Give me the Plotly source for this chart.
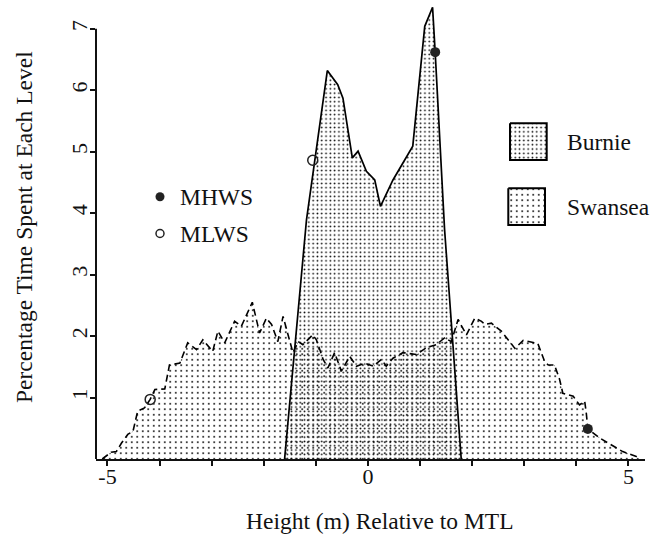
import plotly.graph_objects as go

# ---------------- data ----------------
swansea_x = [-5.10, -4.93, -4.83, -4.73, -4.61, -4.51, -4.42, -4.29, -4.18, -4.09,
             -3.90, -3.81, -3.61, -3.46, -3.29, -3.17, -2.98, -2.88, -2.75, -2.66,
             -2.56, -2.43, -2.37, -2.22, -2.08, -1.95, -1.85, -1.73, -1.63, -1.50,
             -1.44, -1.34, -1.25, -1.06, -0.99, -0.86, -0.77, -0.64, -0.51, -0.35,
             -0.22, -0.06, 0.10, 0.26, 0.35, 0.48, 0.67, 0.93, 1.12, 1.31,
             1.47, 1.60, 1.73, 1.89, 2.05, 2.18, 2.24, 2.37, 2.56, 2.69,
             2.82, 2.98, 3.10, 3.26, 3.39, 3.46, 3.58, 3.68, 3.74, 3.94,
             4.06, 4.16, 4.19, 4.22, 4.45, 4.67, 4.89, 5.15, 5.22]
swansea_y = [0.00, 0.11, 0.12, 0.26, 0.40, 0.45, 0.78, 0.83, 0.97, 1.13,
             1.14, 1.53, 1.56, 1.89, 1.78, 1.94, 1.75, 2.08, 1.89, 2.05,
             2.24, 2.16, 2.27, 2.55, 2.05, 2.29, 2.19, 1.91, 2.32, 1.89,
             1.73, 1.91, 1.86, 2.02, 1.94, 1.62, 1.48, 1.73, 1.43, 1.67,
             1.51, 1.56, 1.51, 1.62, 1.51, 1.64, 1.73, 1.70, 1.81, 1.86,
             1.97, 1.91, 2.27, 2.02, 2.29, 2.24, 2.19, 2.21, 2.08, 1.94,
             1.80, 1.93, 1.91, 1.88, 1.59, 1.53, 1.53, 1.29, 1.07, 1.02,
             0.88, 0.94, 0.75, 0.49, 0.34, 0.23, 0.12, 0.04, 0.00]

burnie_x = [-1.60, -1.18, -0.78, -0.58, -0.48, -0.30, -0.19, -0.03, 0.13, 0.24,
            0.48, 0.86, 1.09, 1.24, 1.29, 1.47, 1.79]
burnie_y = [0.00, 3.89, 6.32, 6.09, 5.87, 4.90, 5.01, 4.68, 4.54, 4.11,
            4.54, 5.09, 7.04, 7.35, 6.62, 3.74, 0.00]

mhws_x = [1.29, 4.22]
mhws_y = [6.62, 0.49]
mlws_x = [-1.06, -4.18]
mlws_y = [4.86, 0.97]

series_names = ["Burnie", "Swansea"]
marker_names = ["MHWS", "MLWS"]

x_tick_vals = [-5, -4, -3, -2, -1, 0, 1, 2, 3, 4, 5]
x_tick_text = ["-5", "", "", "", "", "0", "", "", "", "", "5"]
y_tick_vals = [1, 2, 3, 4, 5, 6, 7]
y_tick_text = ["1", "2", "3", "4", "5", "6", "7"]

x_title = "Height (m) Relative to MTL"
y_title = "Percentage Time Spent at Each Level"

# ---------------- layout constants ----------------
W, H = 651, 537
L, R, T, B = 96, 6, 5, 78
PX_PER_X = 52.1
PX_PER_Y = 61.46
X_MIN = -5.22
X_RANGE = [X_MIN, X_MIN + (W - L - R) / PX_PER_X]
Y_RANGE = [0, (H - T - B) / PX_PER_Y]
FONT = "Liberation Serif, Times New Roman, serif"

def px_x(px):
    return (px - L) / (W - L - R)

def px_y(py):
    return (H - B - py) / (H - T - B)

burnie_pattern = dict(shape=".", fgcolor="black", bgcolor="rgba(0,0,0,0)",
                      size=4.3, solidity=0.13, fillmode="replace")
swansea_pattern = dict(shape=".", fgcolor="black", bgcolor="rgba(0,0,0,0)",
                       size=5.5, solidity=0.09, fillmode="replace")

fig = go.Figure()

fig.add_trace(go.Scatter(
    x=swansea_x, y=swansea_y, mode="lines", name=series_names[1],
    line=dict(color="black", width=1.6, dash="7px,4px"),
    fill="tozeroy", fillcolor="black", fillpattern=swansea_pattern,
    showlegend=False, hoverinfo="skip"))

fig.add_trace(go.Scatter(
    x=burnie_x, y=burnie_y, mode="lines", name=series_names[0],
    line=dict(color="black", width=1.7),
    fill="tozeroy", fillcolor="black", fillpattern=burnie_pattern,
    showlegend=False, hoverinfo="skip"))

fig.add_trace(go.Scatter(
    x=mhws_x, y=mhws_y, mode="markers", name=marker_names[0],
    marker=dict(symbol="circle", size=10, color="#222"),
    showlegend=False, hoverinfo="skip"))
fig.add_trace(go.Scatter(
    x=mlws_x, y=mlws_y, mode="markers", name=marker_names[1],
    marker=dict(symbol="circle-open", size=10, color="#222", line=dict(width=1.5)),
    showlegend=False, hoverinfo="skip"))

# ---- legend swatches drawn on an overlay pixel axis ----
def box(x0, y0, x1, y1):
    return [x0, x1, x1, x0, x0], [y0, y0, y1, y1, y0]

bx, by = box(510, 123.3, 546.7, 160)
fig.add_trace(go.Scatter(x=bx, y=by, xaxis="x2", yaxis="y2", mode="lines",
                         line=dict(color="black", width=2), fill="toself",
                         fillcolor="black", fillpattern=burnie_pattern,
                         showlegend=False, hoverinfo="skip"))
sx, sy = box(508.3, 188.3, 545, 225)
fig.add_trace(go.Scatter(x=sx, y=sy, xaxis="x2", yaxis="y2", mode="lines",
                         line=dict(color="black", width=2), fill="toself",
                         fillcolor="black", fillpattern=swansea_pattern,
                         showlegend=False, hoverinfo="skip"))
fig.add_trace(go.Scatter(x=[160], y=[196.7], xaxis="x2", yaxis="y2", mode="markers",
                         marker=dict(symbol="circle", size=9, color="#222"),
                         showlegend=False, hoverinfo="skip"))
fig.add_trace(go.Scatter(x=[160], y=[233.5], xaxis="x2", yaxis="y2", mode="markers",
                         marker=dict(symbol="circle-open", size=8, color="#222",
                                     line=dict(width=1.5)),
                         showlegend=False, hoverinfo="skip"))

annotations = []
def label(text, px, py, anchor="left", angle=0, size=23.5):
    annotations.append(dict(text=text, x=px_x(px), y=px_y(py), xref="paper", yref="paper",
                            xanchor=anchor, yanchor="middle", showarrow=False,
                            textangle=angle, font=dict(family=FONT, size=size, color="#111")))

label(series_names[0], 565, 141.7)
label(series_names[1], 565, 206.7)
label(marker_names[0], 178, 196.7)
label(marker_names[1], 178, 234)
label(x_title, 380, 521, anchor="center")
label(y_title, 24, 227, anchor="center", angle=-90)

fig.update_layout(
    width=W, height=H,
    margin=dict(l=L, r=R, t=T, b=B, pad=0),
    paper_bgcolor="white", plot_bgcolor="white",
    showlegend=False,
    font=dict(family=FONT, color="#111"),
    annotations=annotations,
    shapes=[dict(type="line", xref="paper", yref="y", x0=0, x1=0, y0=0, y1=7,
                 line=dict(color="#111", width=2))],
    xaxis=dict(range=X_RANGE, showgrid=False, zeroline=False, showline=True,
               linecolor="#111", linewidth=2, ticks="outside", ticklen=5,
               tickwidth=1.5, tickcolor="#111", tickvals=x_tick_vals,
               ticktext=x_tick_text, ticklabelstandoff=-8,
               tickfont=dict(family=FONT, size=22, color="#111")),
    yaxis=dict(range=Y_RANGE, showgrid=False, zeroline=False, showline=False,
               ticks="outside", ticklen=5, tickwidth=1.5, tickcolor="#111",
               tickvals=y_tick_vals, ticktext=y_tick_text, tickangle=-90,
               ticklabelstandoff=-6,
               tickfont=dict(family=FONT, size=22, color="#111")),
    xaxis2=dict(overlaying="x", range=[L, W - R], visible=False),
    yaxis2=dict(overlaying="y", range=[H - B, T], visible=False),
)

fig.write_html("out.html")
